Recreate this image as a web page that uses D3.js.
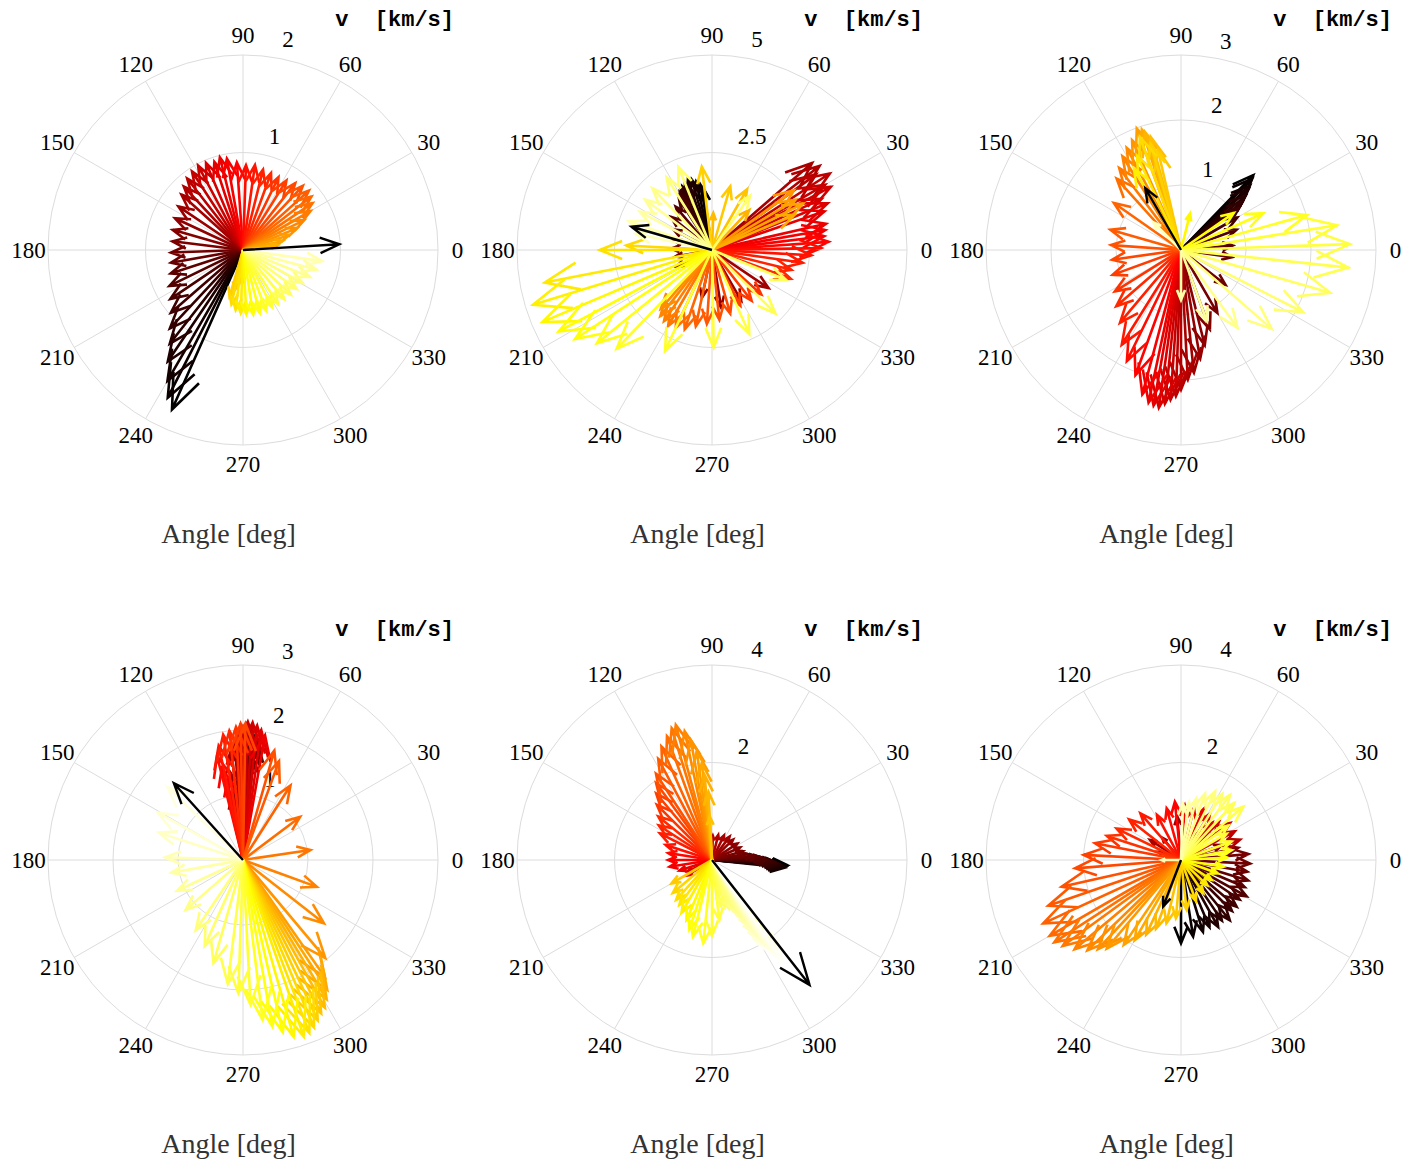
<!DOCTYPE html>
<html><head><meta charset="utf-8">
<script src="https://cdn.jsdelivr.net/npm/d3@7"></script>
<style>body{margin:0;background:#fff}</style>
</head><body>
<svg id="chart" width="1425" height="1163"></svg>
<script>
// ---------- DATA ----------
const angleTicks = [0,30,60,90,120,150,180,210,240,270,300,330];
const titleText = "v  [km/s]";
const xLabelText = "Angle [deg]";
// last colormap value (hot) reached by each panel's series
const toneMax = [0.92, 0.93, 0.93, 0.97, 0.99, 0.93];

// Panel 1
const p1Rings = [1, 2];
const p1Angle = [246,243,240,236,232,227,221,214,206,198,190, 182,173,164,155,146,138, 133,128,123,118,113,108,104,100, 94,88,82,76,70,64,58,52,47, 42,38,34,30, 26,22,18,13,8, 268,258,254,258,263,268,273,279,285,291,297,303,310,317,324,331,338,345,352];
const p1Speed = [1.79,1.70,1.55,1.38,1.22,1.10,0.98,0.90,0.84,0.78,0.75, 0.74,0.73,0.75,0.77,0.80,0.85, 0.89,0.93,0.96,0.98,0.97,0.95,0.98,0.95, 0.90,0.87,0.88,0.85,0.84,0.83,0.84,0.87,0.90, 0.91,0.89,0.86,0.80, 0.70,0.60,0.50,0.42,0.36, 0.35,0.42,0.50,0.57,0.62,0.65,0.66,0.67,0.67,0.67,0.66,0.66,0.66,0.67,0.68,0.70,0.74,0.78,0.82];
const p1Mean = [3.4, 0.99];

// Panel 2
const p2Rings = [2.5, 5];
const p2Angle = [98,100,103,106,109,112,115,117,119,121,123, 130,141,152,166,178,190,205,258,279,300,326, 41,38,36,33,30,28,25,22,19, 13,10,7,4,1,357,352,346, 340,318,308,297,286,276,266,258, 251,245,240,236,232,229, 36,31,27,23,47,88, 60,74,97,177,180,191,197,203,208,213,219,226, 245,271,294,315,338,55, 112,122,134,143,152,161,168];
const p2Speed = [1.6,1.7,1.8,1.88,1.9,1.85,1.8,1.75,1.7,1.62,1.55, 1.45,1.35,1.12,1.0,1.05,0.95,1.0,1.25,1.5,1.5,1.75, 3.4,3.5,3.3,3.6,3.35,3.45,3.1,3.2,3.05, 3.0,2.95,2.9,3.0,2.8,2.55,2.35,2.1, 2.15,1.7,1.65,1.6,1.7,1.8,1.9,2.0, 2.15,2.2,2.25,2.2,2.15,2.0, 2.6,2.5,2.62,2.3,1.4,0.95, 1.8,1.7,2.15,2.2,2.88,4.37,4.8,4.72,4.45,4.19,3.8,3.52, 2.85,2.5,2.35,2.3,2.05,1.7, 2.3,2.2,2.2,2.15,2.1,2.25,2.0];
const p2Mean = [163.9, 2.15];

// Panel 3
const p3Rings = [1, 2, 3];
const p3Angle = [46,45,43,42,40,38,36, 30,20,5,352,322, 300,290,284,280,276,273, 270,268,266,264,262,260,258,255, 250,244,238,230,221,212, 200,188,176,164,145, 132,127,122,118,114,110,108,107,105, 103,106,110,115,120, 76,35,24,15.5,9,2,354,344, 333,319,306,290,270,135];
const p3Speed = [1.6,1.55,1.45,1.4,1.3,1.2,1.1, 1.0,0.91,0.8,0.79,0.87, 1.12,1.3,1.51,1.7,1.9,2.0, 2.15,2.25,2.31,2.38,2.45,2.43,2.4,2.3, 2.05,1.9,1.72,1.46,1.32,1.2, 1.12,1.07,1.08,1.13,1.26, 1.48,1.58,1.7,1.78,1.85,1.99,1.95,1.9,1.8, 1.58,1.7,1.85,1.6,1.45, 0.58,0.99,1.39,2.01,2.43,2.6,2.59,2.39, 2.11,1.85,1.48,1.17,0.77,0.6];
const p3Mean = [120, 1.1];

// Panel 4
const p4Rings = [1, 2, 3];
const p4Angle = [86,87,88,86,85,87,89,88,86,84,85,87,89,90, 100,98,96,94,92,90,88,86,84,82,80,101,103,104,102,99,96,93,91,89, 74,70,57.5,37,8.5,340,322, 310,305,303,301,299,297,295,293,291, 289,286,283,280,277,273,268,263, 254,246,236,221,205,190,178,162,151,136];
const p4Speed = [1.7,1.75,1.8,1.85,1.9,1.95,2.0,1.95,2.0,1.9,1.8,1.7,1.65,1.6, 1.0,1.35,1.65,1.85,2.0,2.05,2.13,2.12,2.08,2.02,1.95,1.25,1.45,1.65,1.8,1.95,2.0,2.05,2.1,2.1, 1.75,1.62,1.36,1.1,1.05,1.21,1.58, 1.97,2.2,2.38,2.5,2.6,2.65,2.72,2.8,2.85, 2.87,2.83,2.72,2.6,2.48,2.23,2.05,1.92, 1.65,1.45,1.3,1.17,1.12,1.12,1.2,1.36,1.5,1.62];
const p4Mean = [132, 1.59];

// Panel 5
const p5Rings = [2, 4];
const p5Angle = [356,355,354,355,356,357,358,359,0,2,4,6, 10,16,24,33,44,53,64,76, 88,100,130,205,212,198, 189,180,171,162,153, 147,141,135,130,126,123,118,114,110, 107,105,102,100,98,96,95,93,93, 210,220,228,234,240,247,252,256,264,270,277, 281,285,289,292,295,297,299,300,301,302,303,304,305];
const p5Speed = [1.55,1.52,1.5,1.45,1.4,1.35,1.28,1.2,1.12,1.05,0.95,0.85, 0.72,0.66,0.63,0.62,0.6,0.6,0.56,0.53, 0.5,0.45,0.3,0.55,0.6,0.7, 0.88,0.9,0.91,1.0,1.2, 1.3,1.42,1.6,1.78,1.95,2.11,2.35,2.55,2.7, 2.83,2.87,2.7,2.5,2.25,2.0,1.75,1.4,0.9, 0.96,1.05,1.1,1.14,1.25,1.34,1.5,1.62,1.72,1.55,1.24, 0.95,1.0,1.05,1.1,1.2,1.35,1.5,1.65,1.85,2.05,2.25,2.4,2.52];
const p5Mean = [308, 3.25];

// Panel 6
const p6Rings = [2, 4];
const p6Angle = [270,279,287,293,299,304,309,315,320,326,331,337,343,350,357, 5,12,20,60,95,130,147,160, 19,28,37,45,50,58,66,76,86,96,105.5,118, 131,142,154,162,169,177,184.5,192.6,199, 204.7,210,213,216,220,224,227,230,236,240,245,250,257, 265,276.5,290,304,316,327,340,351, 3,11,20,30,36, 40.5,47,53,58,63.5,70,76,82,88,180];
const p6Speed = [1.71,1.59,1.54,1.5,1.57,1.5,1.59,1.48,1.49,1.45,1.54,1.42,1.44,1.38,1.42, 1.39,1.2,0.9,0.6,0.9,0.6,0.76,0.5, 1.28,1.25,1.26,1.1,1.0,1.12,1.15,1.1,1.13,1.2,1.1,1.05, 1.27,1.35,1.47,1.6,1.8,2.0,2.18,2.51,2.88, 3.11,3.11,3.1,3.0,2.85,2.67,2.5,2.37,2.1,1.9,1.69,1.5,1.33, 1.2,1.03,0.9,0.82,0.75,0.75,0.8,0.88, 0.95,1.06,1.1,1.08,1.2, 1.68,1.6,1.67,1.6,1.57,1.45,1.3,1.2,1.16,0.4];
const p6Mean = [249, 1.02];

// ---------- RENDER ----------
const panels = [
  {angle:p1Angle, speed:p1Speed, mean:p1Mean, rings:p1Rings},
  {angle:p2Angle, speed:p2Speed, mean:p2Mean, rings:p2Rings},
  {angle:p3Angle, speed:p3Speed, mean:p3Mean, rings:p3Rings},
  {angle:p4Angle, speed:p4Speed, mean:p4Mean, rings:p4Rings},
  {angle:p5Angle, speed:p5Speed, mean:p5Mean, rings:p5Rings},
  {angle:p6Angle, speed:p6Speed, mean:p6Mean, rings:p6Rings}
];

function hot(t){
  const c = v => Math.min(1, Math.max(0, v));
  return d3.rgb(255*c(t/0.375), 255*c((t-0.375)/0.375), 255*c((t-0.75)/0.25)).formatHex();
}

const svg = d3.select('#chart');
const R = 195;
const serif = "'Liberation Serif','Times New Roman',serif";
const mono = "'Liberation Mono','Courier New',monospace";
const rad = d3.scaleLinear().domain([0, 360]).range([0, 2*Math.PI]);

panels.forEach((p, i) => {
  const cx = 243 + (i % 3) * 469;
  const cy = 250 + Math.floor(i / 3) * 610;
  const rmax = p.rings[p.rings.length - 1];
  const x = d3.scaleLinear().domain([-rmax, rmax]).range([cx - R, cx + R]);
  const y = d3.scaleLinear().domain([-rmax, rmax]).range([cy + R, cy - R]);
  const r = d3.scaleLinear().domain([0, rmax]).range([0, R]);
  const g = svg.append('g');

  g.selectAll('circle.ring').data(p.rings).join('circle').attr('class','ring')
    .attr('cx', x(0)).attr('cy', y(0)).attr('r', d => r(d))
    .attr('fill', 'none').attr('stroke', '#dcdcdc').attr('stroke-width', 1);
  g.selectAll('line.spoke').data(angleTicks.slice(0, 6)).join('line').attr('class','spoke')
    .attr('x1', d => x(-rmax*Math.cos(rad(d)))).attr('y1', d => y(-rmax*Math.sin(rad(d))))
    .attr('x2', d => x(rmax*Math.cos(rad(d)))).attr('y2', d => y(rmax*Math.sin(rad(d))))
    .attr('stroke', '#dcdcdc').attr('stroke-width', 1);
  g.selectAll('text.ang').data(angleTicks).join('text').attr('class','ang')
    .attr('x', d => x(1.1*rmax*Math.cos(rad(d))))
    .attr('y', d => y(1.1*rmax*Math.sin(rad(d))))
    .attr('text-anchor', 'middle').attr('dominant-baseline', 'central')
    .style('font-family', serif).style('font-size', '23px').attr('fill', '#000')
    .text(d => d);
  const rinc = p.rings[0];
  g.selectAll('text.rl').data(p.rings).join('text').attr('class','rl')
    .attr('x', d => x((d + rinc/20)*Math.cos(rad(82))))
    .attr('y', d => y((d + rinc/20)*Math.sin(rad(82))) - 5)
    .attr('text-anchor', 'start')
    .style('font-family', serif).style('font-size', '23px').style('white-space', 'pre')
    .attr('fill', '#000')
    .text(d => '  ' + d);

  const n = p.angle.length;
  const tScale = d3.scaleLinear().domain([0, n - 1]).range([0, toneMax[i]]);
  const line = d3.line().x(d => x(d[0])).y(d => y(d[1]));
  const tmpl = [[0,0],[1,0],[0.8,0.08],[1,0],[0.8,-0.08]];
  function arrowPts(a, s){
    const c = Math.cos(rad(a)) * s, sn = Math.sin(rad(a)) * s;
    return tmpl.map(([u, v]) => [u*c - v*sn, u*sn + v*c]);
  }
  const arrows = p.angle.map((a, k) => ({a, s: p.speed[k], k}));
  g.selectAll('path.arr').data(arrows).join('path').attr('class','arr')
    .attr('d', d => line(arrowPts(d.a, d.s)))
    .attr('fill', 'none').attr('stroke', d => hot(tScale(d.k)))
    .attr('stroke-width', 2.6).attr('stroke-linejoin', 'miter');
  g.append('path')
    .attr('d', line(arrowPts(p.mean[0], p.mean[1])))
    .attr('fill', 'none').attr('stroke', '#000').attr('stroke-width', 2.4);

  g.append('text').attr('x', cx + 211).attr('y', cy - 224)
    .attr('text-anchor', 'end')
    .style('font-family', mono).style('font-size', '22px').style('font-weight', 'bold')
    .style('white-space', 'pre').attr('fill', '#000').text(titleText);
  g.append('text').attr('x', cx - 14.5).attr('y', cy + 293)
    .attr('text-anchor', 'middle')
    .style('font-family', serif).style('font-size', '28px').attr('fill', '#333')
    .text(xLabelText);
});
</script>
</body></html>
